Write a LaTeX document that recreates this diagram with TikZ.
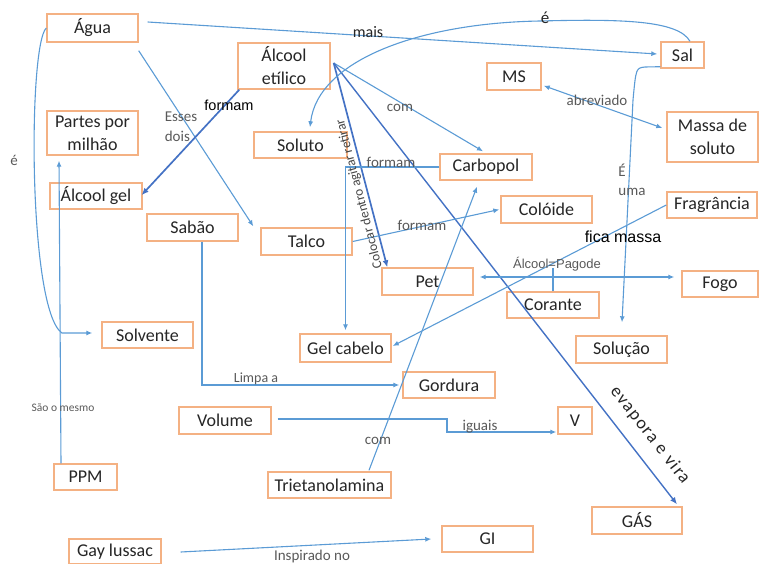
\documentclass[tikz,border=0pt]{standalone}
\usepackage{fontspec}
\setmainfont{Carlito}
\newfontfamily\sansalt{Liberation Sans}
\usetikzlibrary{arrows.meta}
\definecolor{boxline}{HTML}{F4B183}
\definecolor{linkblue}{HTML}{5B9BD5}
\definecolor{linkdark}{HTML}{4472C4}
\definecolor{txtdark}{HTML}{262626}
\definecolor{txtgray}{HTML}{595959}

\begin{document}
\begin{tikzpicture}[x=1pt,y=-1pt,
  concept/.style n args={2}{draw=boxline, line width=1.4pt, fill=white,
    inner sep=0pt, minimum width=#1pt, minimum height=#2pt, align=center,
    text=txtdark, font=\fontsize{18}{23}\selectfont},
  conn/.style={draw=linkblue, line width=1.1pt, -{Latex[length=6pt,width=5pt]}},
  connboth/.style={draw=linkblue, line width=1.1pt, {Latex[length=6pt,width=5pt]}-{Latex[length=6pt,width=5pt]}},
  connplain/.style={draw=linkblue, line width=1.1pt},
  connd/.style={draw=linkdark, line width=1.7pt, -{Latex[length=7pt,width=6pt]}},
  lbl/.style={text=txtgray, inner sep=0pt, font=\fontsize{15}{19}\selectfont},
  lbldark/.style={text=txtdark, inner sep=0pt, font=\fontsize{16}{19}\selectfont},
]
\useasboundingbox (0,0) rectangle (760,564);

% concepts
\node[concept={91}{28}] (agua) at (92.5,28) {Água};
\node[concept={92}{46}] (alcool) at (284,66) {Álcool\\etílico};
\node[concept={91}{44}] (partes) at (92.5,133) {Partes por\\milhão};
\node[concept={93}{26}] (soluto) at (300.5,145) {Soluto};
\node[concept={92}{26}] (alcoolgel) at (96,196) {Álcool gel};
\node[concept={43}{26}] (sal) at (682.5,55) {Sal};
\node[concept={54}{27}] (ms) at (514,76.5) {MS};
\node[concept={91}{50}] (massa) at (712.5,137) {Massa de\\soluto};
\node[concept={92}{26}] (carbopol) at (486,167) {Carbopol};
\node[concept={90}{26}] (fragrancia) at (712,205) {Fragrância};
\node[concept={91}{27}] (coloide) at (546.5,209.5) {Colóide};
\node[concept={91}{27}] (sabao) at (192.5,227.5) {Sabão};
\node[concept={91}{27}] (talco) at (306.5,241.5) {Talco};
\node[concept={91}{27}] (pet) at (427.5,281.5) {Pet};
\node[concept={76}{26}] (fogo) at (720,284) {Fogo};
\node[concept={92}{26}] (corante) at (553,305) {Corante};
\node[concept={91}{27}] (solucao) at (621.5,349.5) {Solução};
\node[concept={91}{26}] (solvente) at (147.5,335) {Solvente};
\node[concept={91}{28}] (gelcabelo) at (345.5,348) {Gel cabelo};
\node[concept={92}{26}] (gordura) at (449,385) {Gordura};
\node[concept={92}{27}] (volume) at (225,420.5) {Volume};
\node[concept={34}{27}] (v) at (575,420.5) {V};
\node[concept={63}{26}] (ppm) at (85.5,477) {PPM};
\node[concept={123}{26}] (trieta) at (329.5,485) {Trietanolamina};
\node[concept={92}{25}] (gay) at (115,551.5) {Gay lussac};
\node[concept={91}{26}] (gi) at (487.5,539) {GI};
\node[concept={90}{27}] (gas) at (637,520.5) {GÁS};

% connectors
\draw[conn] ([shift={(9,-6)}]agua.east) -- ([shift={(-3,-1)}]sal.west);
\draw[conn] ([shift={(0,8)}]agua.south east) -- ([shift={(-7,-1)}]talco.north west);
\draw[conn] (agua.west) .. controls (28,45) and (28,310) .. (62,333) -- ([shift={(-9,-2)}]solvente.west);
\draw[connd] ([shift={(2,0)}]alcool.south west) -- ([shift={(-1,-1)}]alcoolgel.east);
\draw[conn] ([shift={(3,-3)}]alcool.east) -- ([shift={(-3,-2)}]carbopol.north);
\draw[connd] ([shift={(3,-3)}]alcool.east) -- ([shift={(6,0)}]pet.north west);
\draw[connd, line width=1.4pt] ([shift={(3,-3)}]alcool.east) -- ([shift={(40,-2)}]gas.north);
\draw[conn] ([shift={(7.5,0)}]sal.north) .. controls (678,20) and (620,19) .. (540,21)
  .. controls (420,23) and (318,60) .. ([shift={(9.5,-4)}]soluto.north);
\draw[conn] ([shift={(0,-2)}]sal.south west) -- (645,67) .. controls (636,68) .. (633,100)
  -- ([shift={(0.5,-13)}]solucao.north);
\draw[connboth] ([shift={(2,-5)}]ms.south east) -- ([shift={(-4,-9)}]massa.west);
\draw[conn] (carbopol.west) -| ([shift={(0,-3)}]gelcabelo.north);
\draw[conn] ([shift={(39.5,-1)}]trieta.north) -- ([shift={(-9,6)}]carbopol.south);
\draw[conn] (talco.east) -- ([shift={(-1,0)}]coloide.west);
\draw[conn] (fragrancia.west) -- ([shift={(1,-2)}]gelcabelo.east);
\draw[connboth] ([shift={(6,-4.5)}]pet.east) -- ([shift={(-7,-7)}]fogo.west);
\coordinate (pagode) at (553,268);
\draw[connplain] (corante.north) -- (pagode);
\draw[conn] ([shift={(9.5,0)}]sabao.south) |- ([shift={(-3,0)}]gordura.west);
\draw[conn] ([shift={(6,-1.5)}]volume.east) -- (447,419) -- (447,432) -- ([shift={(-1,11.5)}]v.west);
\draw[conn] ([shift={(-24.5,0)}]ppm.north) -- ([shift={(-33.5,5)}]partes.south);
\draw[conn] ([shift={(19,0.5)}]gay.east) -- ([shift={(-10,0)}]gi.west);

% link labels
\node[lbldark] (tmais) at (368,32) {mais};
\node[lbldark, font=\fontsize{17}{19}\selectfont] (tesal) at (545,18) {é};
\node[lbl, align=left, font=\fontsize{15}{20}\selectfont] (tesses) at (181,127) {Esses\\dois};
\node[lbl] (teagua) at (14,160) {é};
\node[lbldark, font=\sansalt\fontsize{14.5}{17}\selectfont, text=black] (tformam) at (229,105) {formam};
\node[lbl] (tcom) at (400,108) {com};
\node[lbl] (tformamb) at (391,162) {formam};
\node[lbl] (tabrev) at (597,100) {abreviado};
\node[lbl] (tE) at (622,170) {É};
\node[lbl] (tuma) at (632,192) {uma};
\node[lbl, text=txtdark!85, font=\fontsize{13.5}{16}\selectfont, rotate=104.6] (tcolocar) at (359.5,194) {Colocar dentro agitar retirar};
\node[lbl] (tformamc) at (422,225) {formam};
\node[lbldark, font=\sansalt\fontsize{16}{19}\selectfont, text=black] (tfica) at (623,237) {fica massa};
\node[lbl, font=\sansalt\fontsize{13}{15}\selectfont] (tpagode) at (557,264) {Álcool=Pagode};
\node[lbl, font=\fontsize{14}{16}\selectfont] (tlimpa) at (256,379) {Limpa a};
\node[lbl] (tiguais) at (480,427) {iguais};
\node[lbl, font=\fontsize{11.5}{13}\selectfont] (tsao) at (63,408) {São o mesmo};
\node[lbl] (tcomb) at (378,441) {com};
\node[lbl] (tinsp) at (312,556) {Inspirado no};
\node[lbldark, font=\addfontfeatures{LetterSpace=8}\fontsize{18}{20}\selectfont, rotate=-52.1] (tevap) at (650,435) {evapora e vira};
\end{tikzpicture}
\end{document}
